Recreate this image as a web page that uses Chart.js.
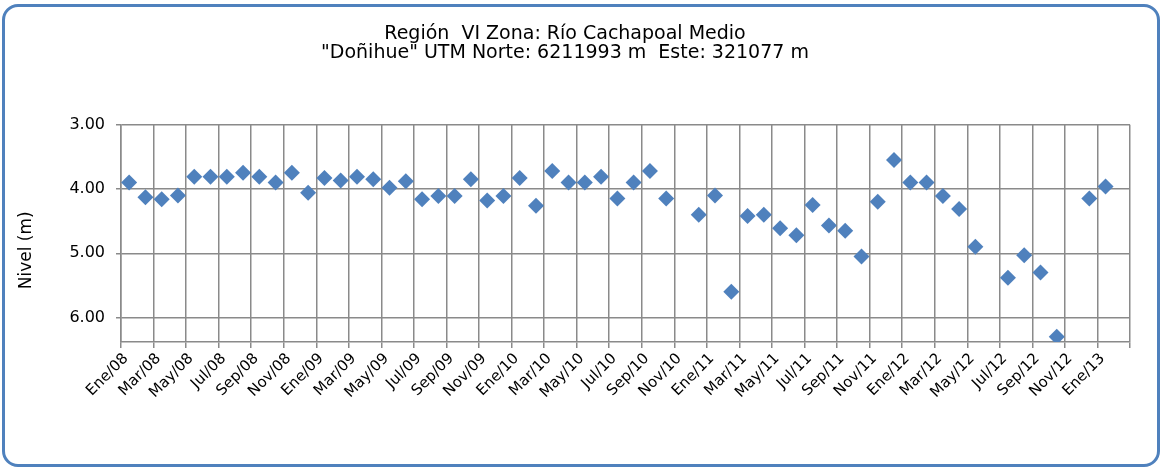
<!DOCTYPE html>
<html lang="es">

<head>
    <meta charset="UTF-8">
    <meta name="viewport" content="width=device-width, initial-scale=1.0">
    <title>Nivel Doñihue</title>
    <script src="https://cdn.jsdelivr.net/npm/chart.js"></script>
    <style>
        body {
            margin: 0;
            background: #fff;
        }
        .marco {
            position: absolute;
            left: 2px;
            top: 4px;
            width: 1158px;
            height: 463px;
            box-sizing: border-box;
            border: 3px solid #4f81bd;
            border-radius: 16px;
        }
        #chart-container {
            position: absolute;
            left: 0;
            top: 0;
            width: 1161px;
            height: 468px;
        }
    </style>
</head>

<body>
    <div class="marco"></div>
    <div id="chart-container">
        <canvas id="nivelChart"></canvas>
    </div>

    <script>
        // mediciones mensuales (año-mes) y nivel en metros
        const fechas = [
            '2008-01', '2008-02', '2008-03', '2008-04', '2008-05', '2008-06', '2008-07', '2008-08', '2008-09', '2008-10', '2008-11', '2008-12',
            '2009-01', '2009-02', '2009-03', '2009-04', '2009-05', '2009-06', '2009-07', '2009-08', '2009-09', '2009-10', '2009-11', '2009-12',
            '2010-01', '2010-02', '2010-03', '2010-04', '2010-05', '2010-06', '2010-07', '2010-08', '2010-09', '2010-10', '2010-12',
            '2011-01', '2011-02', '2011-03', '2011-04', '2011-05', '2011-06', '2011-07', '2011-08', '2011-09', '2011-10', '2011-11', '2011-12',
            '2012-01', '2012-02', '2012-03', '2012-04', '2012-05', '2012-07', '2012-08', '2012-09', '2012-10', '2012-12',
            '2013-01'
        ];
        const niveles = [
            3.90, 4.13, 4.16, 4.10, 3.81, 3.81, 3.81, 3.75, 3.81, 3.90, 3.75, 4.06,
            3.83, 3.87, 3.81, 3.85, 3.98, 3.88, 4.16, 4.11, 4.11, 3.85, 4.18, 4.11,
            3.83, 4.26, 3.72, 3.90, 3.90, 3.81, 4.15, 3.90, 3.72, 4.15, 4.40,
            4.10, 5.60, 4.42, 4.40, 4.61, 4.72, 4.25, 4.57, 4.65, 5.05, 4.20, 3.55,
            3.90, 3.90, 4.11, 4.31, 4.90, 5.38, 5.03, 5.30, 6.30, 4.15,
            3.96
        ];
        const etiquetasX = [
            'Ene/08', 'Mar/08', 'May/08', 'Jul/08', 'Sep/08', 'Nov/08',
            'Ene/09', 'Mar/09', 'May/09', 'Jul/09', 'Sep/09', 'Nov/09',
            'Ene/10', 'Mar/10', 'May/10', 'Jul/10', 'Sep/10', 'Nov/10',
            'Ene/11', 'Mar/11', 'May/11', 'Jul/11', 'Sep/11', 'Nov/11',
            'Ene/12', 'Mar/12', 'May/12', 'Jul/12', 'Sep/12', 'Nov/12',
            'Ene/13', ''
        ];
        const ticksNivel = [3, 4, 5, 6];
        const titulo = ['Región  VI Zona: Río Cachapoal Medio', '"Doñihue" UTM Norte: 6211993 m  Este: 321077 m'];
        const ejeY = 'Nivel (m)';

        const fuente = 'DejaVu Sans';
        const gris = '#8a8a8a';

        // mes 0 = enero 2008, el punto va a mitad de mes
        const mesDesdeInicio = f => {
            const [a, m] = f.split('-').map(Number);
            return (a - 2008) * 12 + (m - 1) + 0.5;
        };
        const puntos = fechas.map((f, i) => ({ x: mesDesdeInicio(f), y: niveles[i] }));

        // titulo del eje vertical, algo mas abajo del centro
        const tituloEje = {
            id: 'tituloEje',
            afterDraw(chart) {
                const ctx = chart.ctx;
                const area = chart.chartArea;
                ctx.save();
                ctx.translate(27, (area.top + area.bottom) / 2 + 17);
                ctx.rotate(-Math.PI / 2);
                ctx.font = '17px "' + fuente + '"';
                ctx.fillStyle = '#000';
                ctx.textAlign = 'center';
                ctx.textBaseline = 'middle';
                ctx.fillText(ejeY, 0, 0);
                ctx.restore();
            }
        };

        const ctx = document.getElementById('nivelChart').getContext('2d');
        const nivelChart = new Chart(ctx, {
            type: 'scatter',
            data: {
                datasets: [{
                    label: 'Nivel',
                    data: puntos,
                    pointStyle: 'rectRot',
                    pointRadius: 8,
                    pointHoverRadius: 8,
                    backgroundColor: '#4f81bd',
                    borderColor: '#4f81bd',
                    borderWidth: 0,
                    showLine: false
                }]
            },
            options: {
                responsive: true,
                maintainAspectRatio: false,
                animation: false,
                layout: {
                    padding: { left: 0, right: 31, top: 0, bottom: 0 }
                },
                plugins: {
                    legend: { display: false },
                    tooltip: { enabled: false },
                    title: {
                        display: true,
                        text: titulo,
                        color: '#000',
                        font: { family: fuente, size: 19, weight: 'normal', lineHeight: 1.03 },
                        padding: { top: 24, bottom: 61.5 }
                    }
                },
                scales: {
                    x: {
                        type: 'linear',
                        min: 0,
                        max: (etiquetasX.length - 1) * 2,
                        afterBuildTicks: scale => {
                            scale.ticks = etiquetasX.map((_, i) => ({ value: i * 2 }));
                        },
                        afterFit: scale => { scale.height = 126; },
                        grid: { color: gris, lineWidth: 1.5, tickLength: 6 },
                        border: { color: gris, width: 1.5 },
                        ticks: {
                            autoSkip: false,
                            minRotation: 45,
                            maxRotation: 45,
                            padding: 2,
                            labelOffset: 5,
                            color: '#000',
                            font: { family: fuente, size: 15 },
                            callback: v => etiquetasX[Math.round(v / 2)]
                        }
                    },
                    y: {
                        reverse: true,
                        min: 3,
                        max: 6.38,
                        afterBuildTicks: scale => {
                            scale.ticks = ticksNivel.map(v => ({ value: v }));
                        },
                        afterFit: scale => { scale.width = 121; },
                        grid: { color: gris, lineWidth: 1.5, tickLength: 5 },
                        border: { color: gris, width: 1.5 },
                        ticks: {
                            padding: 11,
                            color: '#000',
                            font: { family: fuente, size: 16 },
                            callback: v => v.toFixed(2)
                        }
                    }
                }
            },
            plugins: [tituloEje]
        });
    </script>
</body>

</html>
